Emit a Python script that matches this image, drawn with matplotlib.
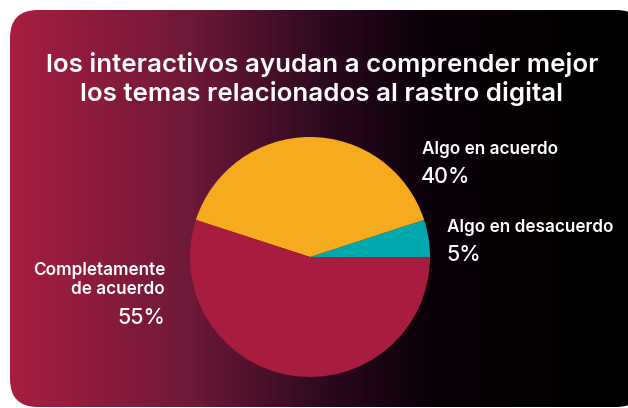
import numpy as np
import matplotlib.pyplot as plt
from matplotlib.patches import FancyBboxPatch
from matplotlib.colors import LinearSegmentedColormap

plt.rcParams['font.family'] = ['Inter', 'DejaVu Sans']

title = "los interactivos ayudan a comprender mejor\nlos temas relacionados al rastro digital"
labels = ["Algo en desacuerdo", "Algo en acuerdo", "Completamente\nde acuerdo"]
shares = [5, 40, 55]
colors = ["#00a9ae", "#f6ab1f", "#a81c3f"]

W, H = 628, 408
fig = plt.figure(figsize=(W / 100, H / 100), dpi=100)
fig.patch.set_facecolor("white")

# background card with horizontal gradient
bg = fig.add_axes([0, 0, 1, 1])
bg.set_xlim(0, W)
bg.set_ylim(H, 0)
bg.axis("off")
card = FancyBboxPatch((10, 10), 634, 397, boxstyle="round,pad=0,rounding_size=28",
                      facecolor="none", edgecolor="none")
bg.add_patch(card)
cmap = LinearSegmentedColormap.from_list(
    "card", [(0, "#a81e40"), (0.3, "#6c1838"), (0.5, "#2e0a20"),
             (0.68, "#0a0008"), (1, "#000000")])
grad = np.linspace(0, 1, 256).reshape(1, -1)
im = bg.imshow(grad, cmap=cmap, extent=[10, 628, H, 10], aspect="auto")
im.set_clip_path(card)

bg.text(322, 79, title, ha="center", va="center", color="white",
        fontsize=18.7, fontweight="semibold", linespacing=1.2)

# pie
r = 120
cx, cy = 310, 257
pax = fig.add_axes([(cx - r) / W, 1 - (cy + r) / H, 2 * r / W, 2 * r / H])
pax.pie(shares, colors=colors, startangle=0, counterclock=True,
        wedgeprops=dict(linewidth=0))
pax.set_xlim(-1, 1)
pax.set_ylim(-1, 1)
pax.set_aspect("equal")

# labels
lab = dict(color="white", fontsize=12.4, fontweight="semibold", va="center")
pct = dict(color="white", fontsize=15.5, fontweight="medium", va="center")
bg.text(422, 150, labels[1], **lab)
bg.text(421, 177, f"{shares[1]}%", **pct)
bg.text(447, 228, labels[0], **lab)
bg.text(446, 255, f"{shares[0]}%", **pct)
bg.text(165, 280, labels[2], ha="right", multialignment="right", linespacing=1.1, **lab)
bg.text(165, 318, f"{shares[2]}%", ha="right", **pct)

fig.savefig("out.png", dpi=100)
